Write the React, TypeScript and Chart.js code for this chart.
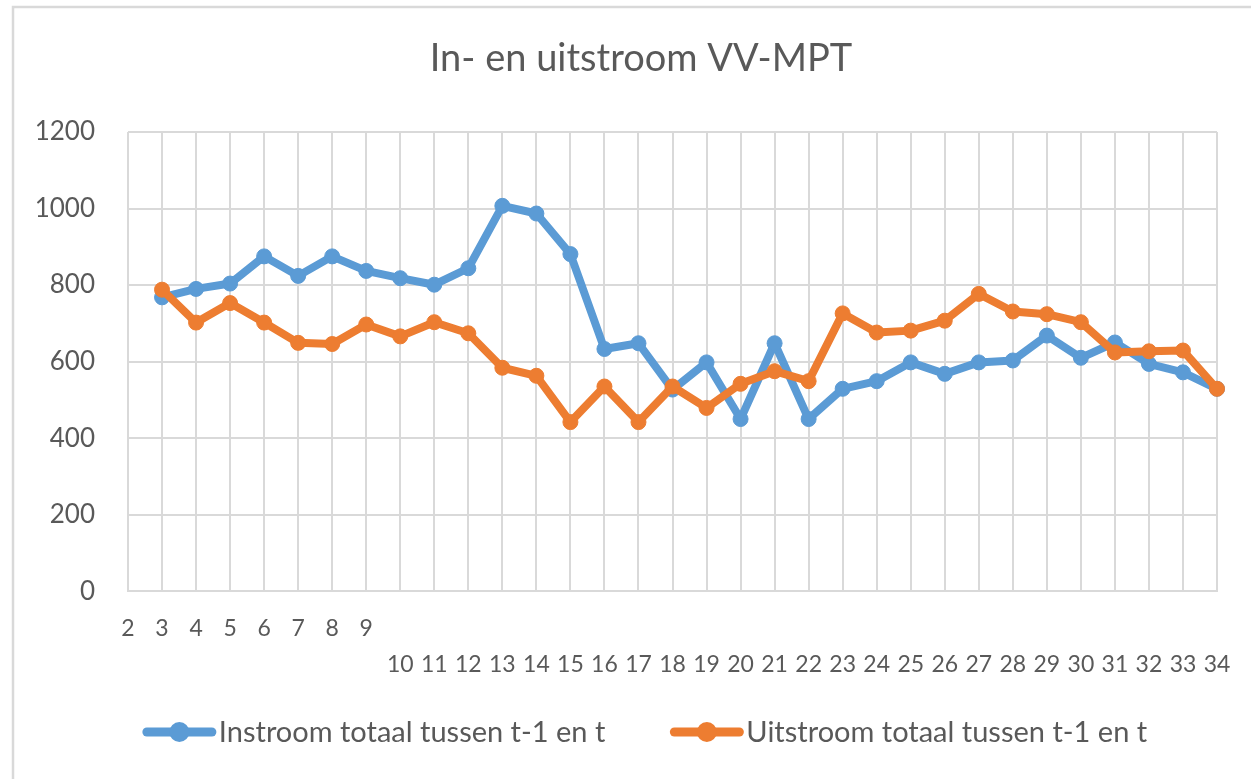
import React, { useEffect, useRef } from 'react';
import { Chart, registerables } from 'chart.js';

Chart.register(...registerables);

const TITLE = 'In- en uitstroom VV-MPT';
const CATEGORIES = ['2', '3', '4', '5', '6', '7', '8', '9', '10', '11', '12', '13', '14', '15', '16', '17', '18', '19', '20', '21', '22', '23', '24', '25', '26', '27', '28', '29', '30', '31', '32', '33', '34'];
const INSTROOM = [null, 768, 790, 804, 875, 824, 875, 837, 818, 801, 844, 1007, 987, 881, 633, 648, 527, 598, 450, 648, 450, 529, 549, 598, 568, 598, 603, 668, 610, 650, 594, 572, 529];
const UITSTROOM = [null, 788, 702, 753, 702, 649, 646, 697, 666, 703, 674, 584, 563, 442, 535, 442, 535, 479, 542, 575, 549, 726, 676, 681, 707, 777, 731, 724, 703, 624, 627, 629, 529];
const SERIES_LABELS = ['Instroom totaal tussen t-1 en t', 'Uitstroom totaal tussen t-1 en t'];
const Y_TICKS = [0, 200, 400, 600, 800, 1000, 1200];

const BLUE = '#5B9BD5';
const ORANGE = '#ED7D31';
const TEXT = '#595959';
const GRID = '#D9D9D9';
const FONT = 'Lato';

const framePlugin = {
  id: 'frame',
  beforeDraw(chart: any) {
    const { ctx, width, height } = chart;
    ctx.save();
    ctx.fillStyle = '#ffffff';
    ctx.fillRect(0, 0, width, height);
    ctx.strokeStyle = GRID;
    ctx.lineWidth = 2.5;
    ctx.beginPath();
    ctx.moveTo(13, height);
    ctx.lineTo(13, 7);
    ctx.lineTo(width, 7);
    ctx.stroke();
    ctx.restore();
  },
};

const titleLegendPlugin = {
  id: 'titleLegend',
  afterDraw(chart: any) {
    const { ctx } = chart;
    ctx.save();
    // title
    ctx.font = `38px ${FONT}`;
    ctx.fillStyle = TEXT;
    ctx.textAlign = 'center';
    ctx.textBaseline = 'middle';
    ctx.fillText(TITLE, 641, 59);

    // legend
    const ds = chart.data.datasets;
    const fontSize = 29;
    const markerW = 73;
    const textGap = 3;
    const itemGap = 65;
    ctx.font = `${fontSize}px ${FONT}`;
    const widths = ds.map((d: any) => ctx.measureText(d.label).width);
    let total = 0;
    widths.forEach((w: number, i: number) => {
      total += markerW + textGap + w + (i < widths.length - 1 ? itemGap : 0);
    });
    const cy = 732;
    let x = 645 - total / 2;
    ds.forEach((d: any, i: number) => {
      ctx.strokeStyle = d.borderColor;
      ctx.fillStyle = d.borderColor;
      ctx.lineWidth = 9;
      ctx.lineCap = 'round';
      ctx.beginPath();
      ctx.moveTo(x + 4, cy);
      ctx.lineTo(x + markerW - 4, cy);
      ctx.stroke();
      ctx.beginPath();
      ctx.arc(x + markerW / 2, cy, 10, 0, Math.PI * 2);
      ctx.fill();
      ctx.fillStyle = TEXT;
      ctx.textBaseline = 'middle';
      ctx.textAlign = 'left';
      ctx.fillText(d.label, x + markerW + textGap, cy + 1);
      x += markerW + textGap + widths[i] + itemGap;
    });
    ctx.restore();
  },
};

export default function App() {
  const canvasRef = useRef<HTMLCanvasElement | null>(null);

  useEffect(() => {
    const canvas = canvasRef.current;
    if (!canvas) return;
    const chart = new Chart(canvas, {
      type: 'line',
      data: {
        labels: CATEGORIES,
        datasets: [
          {
            label: SERIES_LABELS[0],
            data: INSTROOM,
            borderColor: BLUE,
            backgroundColor: BLUE,
            borderWidth: 8,
            pointRadius: 7.5,
            pointBorderWidth: 1,
            pointBackgroundColor: BLUE,
            pointBorderColor: BLUE,
            borderCapStyle: 'round',
            borderJoinStyle: 'round',
            tension: 0,
            order: 1,
          },
          {
            label: SERIES_LABELS[1],
            data: UITSTROOM,
            borderColor: ORANGE,
            backgroundColor: ORANGE,
            borderWidth: 8,
            pointRadius: 7.5,
            pointBorderWidth: 1,
            pointBackgroundColor: ORANGE,
            pointBorderColor: ORANGE,
            borderCapStyle: 'round',
            borderJoinStyle: 'round',
            tension: 0,
            order: 0,
          },
        ],
      },
      options: {
        responsive: false,
        animation: false,
        devicePixelRatio: 1,
        layout: { padding: { left: 0, right: 34, top: 132, bottom: 77.25 } },
        plugins: {
          legend: { display: false },
          tooltip: { enabled: false },
          title: { display: false },
        },
        scales: {
          x: {
            grid: { color: GRID, lineWidth: 2, drawTicks: false },
            border: { color: GRID, width: 2 },
            ticks: {
              color: TEXT,
              autoSkip: false,
              maxRotation: 0,
              minRotation: 0,
              padding: 18.75,
              font: { family: FONT, size: 23, lineHeight: '36.5px' as any },
              callback: function (this: any, value: any, index: number) {
                const lbl = CATEGORIES[index];
                return lbl.length > 1 ? ['', lbl] : lbl;
              },
            },
          },
          y: {
            min: Y_TICKS[0],
            max: Y_TICKS[Y_TICKS.length - 1],
            grid: { color: GRID, lineWidth: 2, drawTicks: false },
            border: { display: false },
            afterFit: (scale: any) => {
              scale.width = 128;
            },
            ticks: {
              stepSize: Y_TICKS[1] - Y_TICKS[0],
              color: TEXT,
              padding: 33,
              font: { family: FONT, size: 26 },
              callback: (value: any) => String(value),
            },
          },
        },
      },
      plugins: [framePlugin, titleLegendPlugin],
    } as any);
    return () => chart.destroy();
  }, []);

  return (
    <div style={{ position: 'fixed', left: 0, top: 0, width: 1251, height: 779, background: '#fff' }}>
      <canvas ref={canvasRef} width={1251} height={779} style={{ display: 'block' }} />
    </div>
  );
}
